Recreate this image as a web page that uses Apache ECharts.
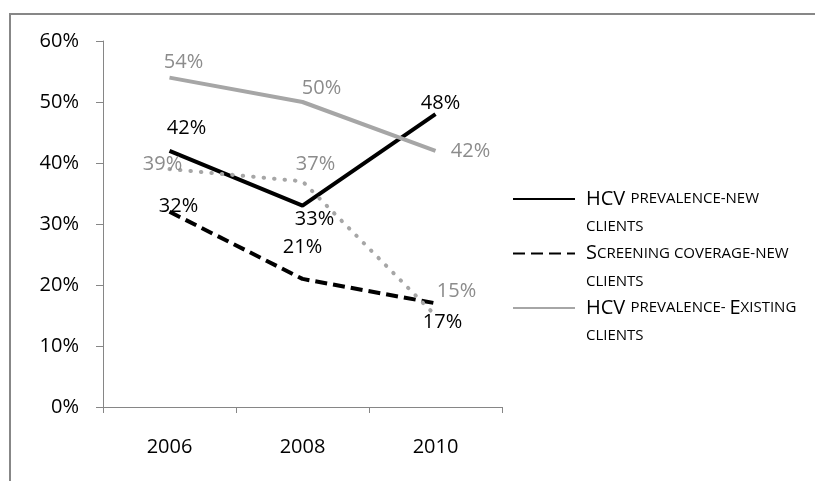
<!DOCTYPE html>
<html lang="en">
<head>
    <meta charset="UTF-8">
    <title>HCV prevalence and screening coverage</title>
    <script src="https://cdn.jsdelivr.net/npm/echarts@6/dist/echarts.min.js"></script>
    <style type="text/css">
        html, body{
            margin: 0;
            padding: 0;
            background: #fff;
        }
        #main{
            width: 815px;
            height: 481px;
        }
    </style>
</head>
<body>
    <div id="main"></div>
    <script>
        // data
        var years = ['2006', '2008', '2010'];
        var hcvNew = [42, 33, 48];
        var screeningNew = [32, 21, 17];
        var hcvExisting = [54, 50, 42];
        var screeningExisting = [39, 37, 15];   // dotted line, not in legend
        var yMin = 0, yMax = 60, yStep = 10;

        var FONT = '"Open Sans", sans-serif';
        var GREY_LINE = '#a6a6a6';
        var GREY_TEXT = '#8c8c8c';

        // label nudges (px from the point), one per year
        var offNew = [[17, -23], [12, 14], [5, -11]];
        var offScrNew = [[9, -6], [0, -32], [7, 19]];
        var offExist = [[14, -15], [19, -14], [35, 0]];
        var offScrExist = [[-7, -5], [13, -17], [21, -24]];

        function withLabels(values, offsets) {
            return values.map(function (v, i) {
                return { value: v, label: { offset: offsets[i] } };
            });
        }

        function lineSeries(name, values, offsets, color, textColor, lineType) {
            return {
                name: name,
                type: 'line',
                data: withLabels(values, offsets),
                symbol: 'circle',
                symbolSize: 2,
                itemStyle: { color: 'rgba(0,0,0,0)' },
                lineStyle: { color: color, width: 4, type: lineType, cap: Array.isArray(lineType) && lineType[0] < 2 ? 'round' : 'butt' },
                label: {
                    show: true,
                    position: 'inside',
                    formatter: '{c}%',
                    color: textColor,
                    fontFamily: FONT,
                    fontSize: 20
                },
                emphasis: { disabled: true },
                animation: false
            };
        }

        // small-caps look for the legend
        var legendText = {
            'HCV prevalence-new clients': '{s| }\n{A|HCV }{b|PREVALENCE-NEW}\n{c|CLIENTS}',
            'Screening coverage-new clients': '{s| }\n{A|S}{b|CREENING COVERAGE-NEW}\n{c|CLIENTS}',
            'HCV prevalence- Existing clients': '{s| }\n{A|HCV }{b|PREVALENCE- }{a|E}{b|XISTING}\n{c|CLIENTS}'
        };

        var myChart = echarts.init(document.getElementById('main'));
        var option = {
            backgroundColor: '#fff',
            animation: false,
            textStyle: { fontFamily: FONT, color: '#000' },
            graphic: [{
                type: 'rect',
                shape: { x: 10, y: 14, width: 900, height: 600 },
                style: { fill: 'none', stroke: '#878787', lineWidth: 2 },
                silent: true
            }],
            grid: { left: 103, right: 313, top: 41, bottom: 74 },
            legend: {
                data: ['HCV prevalence-new clients', 'Screening coverage-new clients', 'HCV prevalence- Existing clients'],
                orient: 'vertical',
                left: 512,
                top: 166,
                padding: 0,
                itemGap: -14,
                itemWidth: 62,
                itemHeight: 14,
                selectedMode: false,
                formatter: function (name) { return legendText[name]; },
                textStyle: {
                    color: '#000',
                    fontFamily: FONT,
                    rich: {
                        s: { fontSize: 10, lineHeight: 28 },
                        A: { fontSize: 20, lineHeight: 28, fontFamily: FONT, color: '#000', padding: [0, 0, 0, 6] },
                        a: { fontSize: 20, lineHeight: 28, fontFamily: FONT, color: '#000' },
                        b: { fontSize: 15, lineHeight: 28, fontFamily: FONT, color: '#000' },
                        c: { fontSize: 15, lineHeight: 28, fontFamily: FONT, color: '#000', padding: [0, 0, 0, 6] }
                    }
                }
            },
            xAxis: {
                type: 'category',
                data: years,
                boundaryGap: true,
                axisLine: { lineStyle: { color: '#868686', width: 1 } },
                axisTick: { show: true, length: 6, alignWithLabel: false, lineStyle: { color: '#868686' } },
                axisLabel: { color: '#000', fontSize: 20, fontFamily: FONT, margin: 30 },
                splitLine: { show: false }
            },
            yAxis: {
                type: 'value',
                min: yMin,
                max: yMax,
                interval: yStep,
                axisLine: { show: true, lineStyle: { color: '#868686', width: 1 } },
                axisTick: { show: true, length: 7, lineStyle: { color: '#868686' } },
                axisLabel: { color: '#000', fontSize: 20, fontFamily: FONT, margin: 24, formatter: '{value}%' },
                splitLine: { show: false }
            },
            series: [
                lineSeries('HCV prevalence-new clients', hcvNew, offNew, '#000', '#000', 'solid'),
                lineSeries('Screening coverage-new clients', screeningNew, offScrNew, '#000', '#000', [12, 6]),
                lineSeries('HCV prevalence- Existing clients', hcvExisting, offExist, GREY_LINE, GREY_TEXT, 'solid'),
                lineSeries('Screening coverage- Existing clients', screeningExisting, offScrExist, GREY_LINE, GREY_TEXT, [0.5, 10])
            ]
        };
        myChart.setOption(option);
    </script>
</body>
</html>
